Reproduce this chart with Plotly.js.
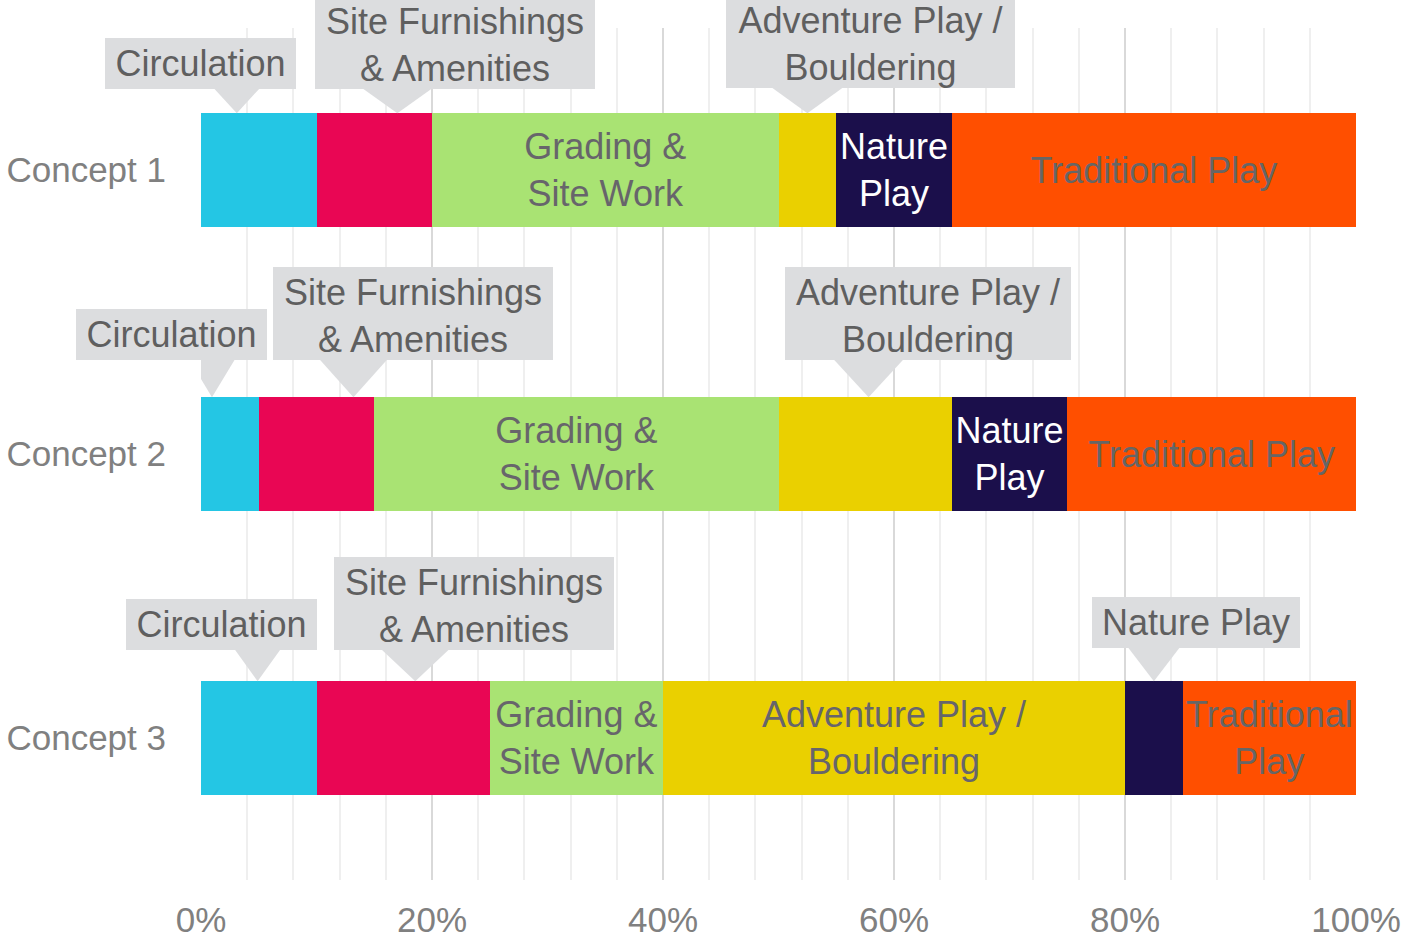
<!DOCTYPE html>
<html><head><meta charset="utf-8">
<script src="https://cdn.plot.ly/plotly-3.0.1.min.js"></script>
<style>html,body{margin:0;padding:0;background:#fff}</style>
</head><body><div id="chart" style="width:1404px;height:940px"></div>
<script>
// ---- data ----
const concepts = ['Concept 1', 'Concept 2', 'Concept 3'];
const seriesNames = ['Circulation', 'Site Furnishings & Amenities', 'Grading & Site Work',
                     'Adventure Play / Bouldering', 'Nature Play', 'Traditional Play'];
const circulation     = [10, 5, 10];
const siteFurnishings = [10, 10, 15];
const grading         = [30, 35, 15];
const adventure       = [5, 15, 40];
const nature          = [10, 10, 5];
const traditional     = [35, 25, 15];
const xTickVals = [0, 20, 40, 60, 80, 100];
const xTickText = ['0%', '20%', '40%', '60%', '80%', '100%'];

// in-bar labels
const circulationLabels = ['', '', ''];
const siteFurnLabels    = ['', '', ''];
const gradingLabels     = ['Grading &<br>Site Work', 'Grading &<br>Site Work', 'Grading &<br>Site Work'];
const adventureLabels   = ['', '', 'Adventure Play /<br>Bouldering'];
const natureLabels      = ['Nature<br>Play', 'Nature<br>Play', ''];
const traditionalLabels = ['Traditional Play', 'Traditional Play', 'Traditional<br>Play'];

// callout labels (series index, concept index, text)
const calloutSeries  = [0, 1, 3, 0, 1, 3, 0, 1, 4];
const calloutConcept = [0, 0, 0, 1, 1, 1, 2, 2, 2];
const calloutText = ['Circulation', 'Site Furnishings<br>& Amenities', 'Adventure Play /<br>Bouldering',
                     'Circulation', 'Site Furnishings<br>& Amenities', 'Adventure Play /<br>Bouldering',
                     'Circulation', 'Site Furnishings<br>& Amenities', 'Nature Play'];

// ---- styling / placement of callouts ----
const calloutStyle = [
  {frac: 0.31, dx: -36.5, gap: 24, hb: 23, w: 191, h: 51},
  {frac: 0.70, dx: 58,    gap: 24, hb: 35, w: 280, h: 93},
  {frac: 0.50, dx: 63,    gap: 25, hb: 36, w: 289, h: 93},
  {frac: 0.19, dx: -40.5, gap: 37, hb: 23, w: 191, h: 51},
  {frac: 0.82, dx: 60,    gap: 37, hb: 34, w: 280, h: 93},
  {frac: 0.52, dx: 59,    gap: 37, hb: 35, w: 286, h: 93},
  {frac: 0.49, dx: -36.5, gap: 31, hb: 23, w: 191, h: 51},
  {frac: 0.57, dx: 59,    gap: 31, hb: 34, w: 280, h: 93},
  {frac: 0.50, dx: 42,    gap: 33, hb: 26, w: 208, h: 51}
];

const values = [circulation, siteFurnishings, grading, adventure, nature, traditional];
const labels = [circulationLabels, siteFurnLabels, gradingLabels, adventureLabels, natureLabels, traditionalLabels];
const colors = ['#24c6e4', '#e90654', '#a9e373', '#ead000', '#1b0f4b', '#ff4f00'];
const textColors = ['#666666', '#666666', '#67656b', '#67656b', '#ffffff', '#666666'];
const FONT = 'Liberation Sans, Arial, sans-serif';
const yIdx = concepts.map((c, i) => i);

const traces = values.map((v, s) => ({
  type: 'bar', orientation: 'h', name: seriesNames[s],
  x: v, y: yIdx, width: 0.4,
  marker: {color: colors[s], line: {width: 0}},
  text: labels[s], textposition: 'inside', insidetextanchor: 'middle',
  textangle: 0, constraintext: 'none', cliponaxis: false,
  textfont: {family: FONT, size: 36, color: textColors[s]},
  hoverinfo: 'skip'
}));

const annotations = [];
const shapes = [];
calloutText.forEach((t, k) => {
  const s = calloutSeries[k], c = calloutConcept[k], st = calloutStyle[k];
  let start = 0;
  for (let j = 0; j < s; j++) start += values[j][c];
  const tipX = start + st.frac * values[s][c];
  const barTop = c - 0.2;
  annotations.push({
    x: tipX, y: barTop, xref: 'x', yref: 'y',
    xanchor: 'center', yanchor: 'bottom',
    xshift: st.dx, yshift: st.gap,
    width: st.w, height: st.h, borderpad: 0, borderwidth: 0,
    valign: t.indexOf('<br>') >= 0 ? 'bottom' : 'middle',
    bgcolor: '#dcdddf', showarrow: false, text: t,
    font: {family: FONT, size: 36, color: '#5f5f5f'}
  });
  shapes.push({
    type: 'path', xref: 'x', yref: 'y',
    xsizemode: 'pixel', ysizemode: 'pixel', xanchor: tipX, yanchor: barTop,
    path: `M ${-st.hb},${st.gap + 1} L ${st.hb},${st.gap + 1} L 0,0 Z`,
    fillcolor: '#dcdddf', line: {width: 0}, layer: 'above'
  });
});

const layout = {
  width: 1404, height: 940,
  margin: {l: 201, r: 48, t: 28, b: 60, pad: 0},
  paper_bgcolor: '#ffffff', plot_bgcolor: '#ffffff',
  barmode: 'stack', showlegend: false,
  font: {family: FONT},
  xaxis: {
    range: [0, 100], tickvals: xTickVals, ticktext: xTickText,
    showgrid: true, gridcolor: '#d9d9d9', gridwidth: 2,
    minor: {dtick: 4, tick0: 0, showgrid: true, gridcolor: '#efefef', gridwidth: 2},
    zeroline: false, showline: false, ticks: '',
    tickfont: {family: FONT, size: 35, color: '#808080'},
    ticklabelstandoff: 16
  },
  yaxis: {
    range: [2.5, -0.5], tickvals: yIdx, ticktext: concepts,
    showgrid: false, zeroline: false, showline: false, ticks: '',
    tickfont: {family: FONT, size: 35, color: '#808080'},
    ticklabelstandoff: 34
  },
  annotations: annotations,
  shapes: shapes
};

Plotly.newPlot('chart', traces, layout, {displayModeBar: false, staticPlot: true});
</script></body></html>
